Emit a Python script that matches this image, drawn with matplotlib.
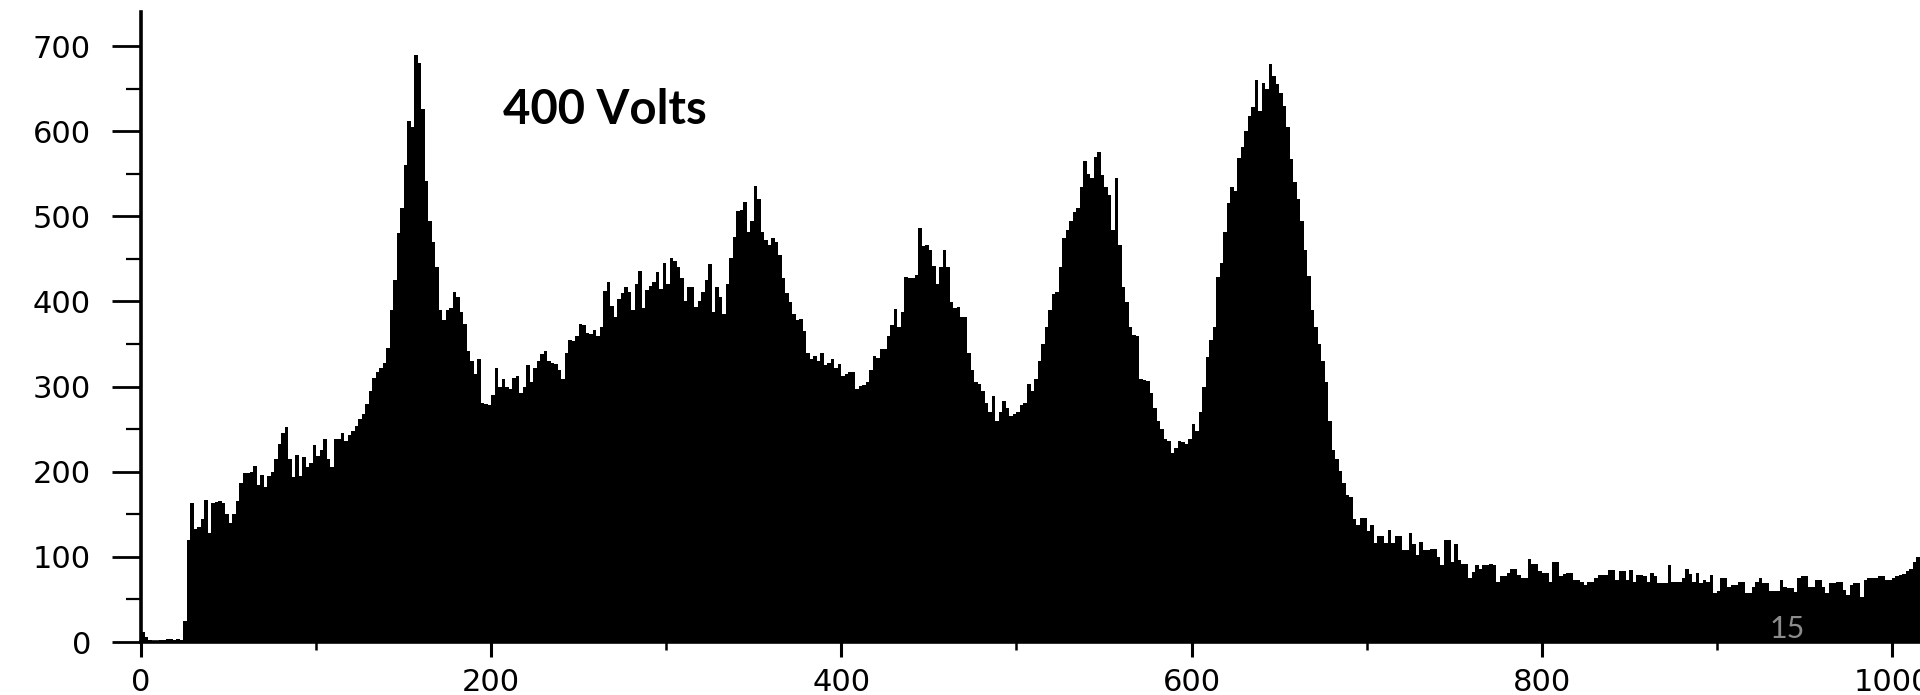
import numpy as np
import matplotlib.pyplot as plt
from matplotlib.ticker import MultipleLocator

# counts per 2-channel bin, starting at channel 0
counts_start = [
    12, 6, 2, 1, 1, 2, 2, 3, 3, 2, 3, 2,
    25, 120, 163, 133, 135, 145, 167, 128, 163, 165, 166, 163,
    150, 140, 150, 166, 187, 198, 198, 200, 207, 185, 196, 182,
    195, 200, 215, 232, 245, 252, 215, 194, 220, 195, 217, 205,
    210, 231, 219, 226, 238, 215, 205, 238, 238, 245, 236, 243,
    248, 254, 262, 268, 280, 295, 310, 317, 322, 328, 345, 390,
    425, 480, 510, 560, 612, 605, 690, 680, 626, 541, 495, 470, 440,
]
counts_mid = [
    390, 378, 390, 392, 411, 405, 388, 374, 342, 330, 315, 332,
    281, 280, 278, 290, 322, 300, 309, 300, 297, 310, 313, 292,
    300, 325, 305, 322, 330, 338, 342, 330, 328, 326, 320, 309,
    340, 355, 353, 360, 374, 372, 363, 362, 366, 360, 370, 412,
    423, 395, 382, 403, 410, 417, 411, 390, 420, 436, 392, 413,
    418, 423, 435, 415, 445, 420, 451, 448, 440, 428, 400, 417,
    417, 393, 400, 411, 425, 444, 388, 417, 405, 385, 420, 451, 476, 506,
    508, 517, 482, 495, 536, 520, 482, 472, 466, 475, 470, 455,
    428, 410, 399, 385, 378, 379, 365, 340, 333, 336, 330, 340,
    325, 328, 333, 322, 327, 313, 315, 317, 317, 297, 301, 302,
    305, 320, 336, 334, 344, 344, 360, 372, 391, 370, 388, 429,
    427, 428, 431, 486, 465, 466, 460, 442, 420, 441, 460, 441,
    399, 392, 394, 382, 382, 340, 319, 305, 303, 295, 281, 270,
    289, 260, 270, 283, 275, 266, 268, 270, 278, 281, 303, 295, 309,
]
counts_peaks = [
    330, 350, 370, 390, 409, 411, 440, 475, 484, 495, 505, 510,
    535, 565, 550, 545, 570, 575, 548, 535, 525, 484, 545, 466,
    417, 399, 370, 361, 360, 309, 308, 307, 292, 275, 260, 250,
    238, 236, 222, 228, 236, 235, 233, 238, 256, 248, 270, 300,
    335, 355, 370, 429, 445, 482, 516, 535, 530, 569, 582, 600,
    618, 628, 660, 624, 657, 649, 679, 665, 655, 645, 630, 605,
    567, 540, 520, 495, 460, 430, 390, 370, 350, 330, 305, 260, 226, 215,
]
counts_tail = [
    201, 187, 173, 170, 144, 138, 146, 146, 130, 138, 116, 124,
    124, 116, 132, 116, 125, 125, 108, 108, 128, 115, 102, 118,
    108, 108, 109, 109, 100, 90, 120, 120, 94, 115, 96, 92,
    92, 75, 82, 90, 86, 90, 90, 92, 90, 71, 77, 77,
    81, 86, 86, 79, 75, 75, 98, 92, 92, 83, 81, 81,
    71, 94, 94, 77, 80, 81, 81, 73, 73, 71, 67, 71,
    71, 75, 79, 79, 79, 85, 85, 73, 83, 83, 73, 85,
    71, 79, 79, 77, 71, 81, 78, 69, 69, 69, 90, 70,
    71, 71, 75, 86, 80, 71, 81, 69, 73, 70, 79, 57,
    60, 75, 75, 65, 67, 67, 71, 71, 57, 57, 65, 70,
    75, 69, 69, 60, 60, 60, 73, 65, 63, 63, 59, 75,
    77, 78, 65, 65, 73, 73, 65, 57, 69, 69, 71, 71,
    61, 55, 67, 69, 69, 53, 73, 75, 75, 75, 77, 77,
    73, 73, 75, 77, 79, 80, 83, 86, 94, 100, 100,
]
bin_width = 2

label_text = "400 Volts"
page_number = "15"

counts = np.array(counts_start + counts_mid + counts_peaks + counts_tail)
edges = np.arange(len(counts) + 1) * bin_width

fig = plt.figure(figsize=(19.2, 6.95), dpi=100)
ax = fig.add_axes([141 / 1920, 53 / 695, 1 - 141 / 1920, 630 / 695])

ax.stairs(counts, edges, fill=True, color="black", linewidth=0)

ax.set_xlim(0, 1016)
ax.set_ylim(0, 740)

for side in ("top", "right"):
    ax.spines[side].set_visible(False)
for side in ("left", "bottom"):
    ax.spines[side].set_linewidth(2.6)

ax.xaxis.set_major_locator(MultipleLocator(200))
ax.xaxis.set_minor_locator(MultipleLocator(100))
ax.yaxis.set_major_locator(MultipleLocator(100))
ax.yaxis.set_minor_locator(MultipleLocator(50))

ax.tick_params(axis="y", which="major", length=21, width=2, pad=15,
               labelsize=22)
ax.tick_params(axis="y", which="minor", length=11, width=1.6)
ax.tick_params(axis="x", which="major", length=11, width=2.2, pad=8,
               labelsize=22)
ax.tick_params(axis="x", which="minor", length=6, width=1.8)
for lbl in ax.get_xticklabels() + ax.get_yticklabels():
    lbl.set_family("DejaVu Sans")

ax.text(207, 625, label_text, fontsize=34, fontweight="bold",
        family=["Lato", "DejaVu Sans"], ha="left", va="center")
ax.text(940, 15, page_number, fontsize=22, color="#8c8c8c",
        family=["Lato", "DejaVu Sans"], ha="center", va="center", zorder=5)

fig.savefig("out.png", dpi=100)
